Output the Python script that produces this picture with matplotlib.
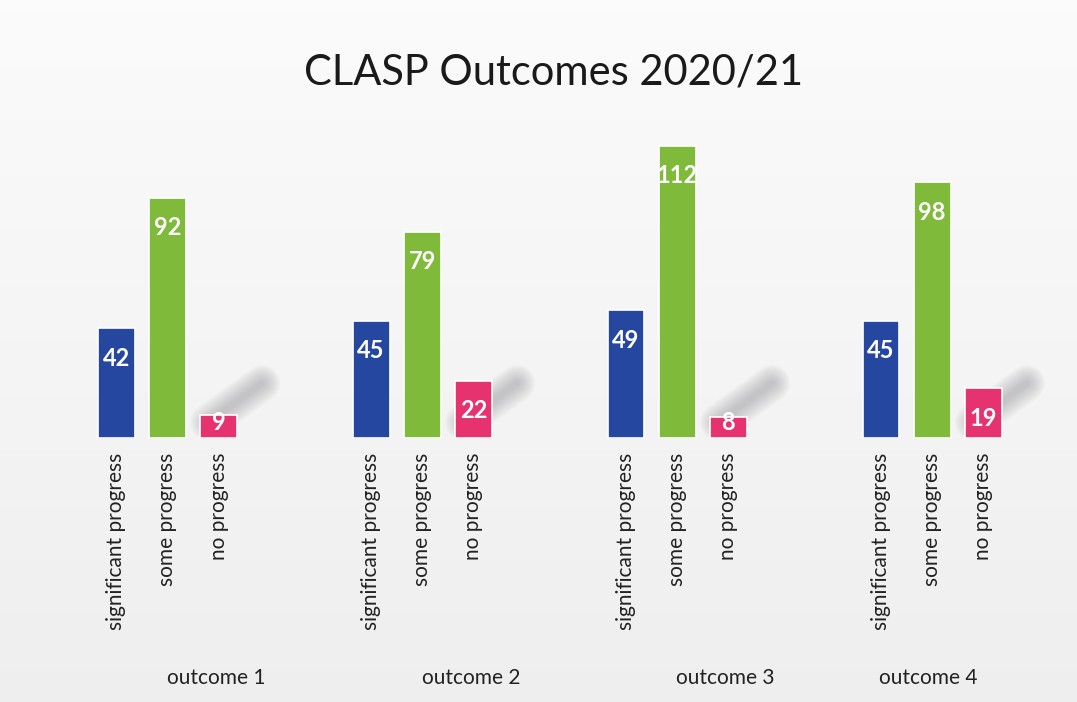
import matplotlib
matplotlib.use("Agg")
import matplotlib.pyplot as plt
import numpy as np

title = "CLASP Outcomes 2020/21"
outcomes = ["outcome 1", "outcome 2", "outcome 3", "outcome 4"]
categories = ["significant progress", "some progress", "no progress"]
significant = [42, 45, 49, 45]
some = [92, 79, 112, 98]
none_ = [9, 22, 8, 19]
colors = ["#2547a0", "#7fba3a", "#e6336f"]

plt.rcParams['font.family'] = ['Lato', 'DejaVu Sans']

fig = plt.figure(figsize=(10.77, 7.02), dpi=100)
fig.patch.set_facecolor("#f1f1f1")

# soft background gradient
bg = fig.add_axes([0, 0, 1, 1], zorder=-5)
grad = np.linspace(0, 1, 256)[:, None]
bg.imshow(np.dstack([0.985 - 0.05 * grad] * 3), aspect="auto", extent=[0, 1, 0, 1])
bg.axis("off")

ax = fig.add_axes([0, 0.376, 1, 0.624])
ax.set_xlim(-2.27, 18.77)
ax.set_ylim(0, 167.8)
ax.axis("off")
ax.patch.set_alpha(0)

series = [significant, some, none_]
group_gap = 4.98

# soft decorative shadows behind the last bar of each group
for g in range(len(outcomes)):
    xb = g * group_gap + 2
    for lw in np.linspace(26, 4, 10):
        ax.plot([xb - 0.2, xb + 0.85], [6, 21], color="#7a7a80", lw=lw, alpha=0.045,
                solid_capstyle="round", zorder=1)

for k, (vals, col) in enumerate(zip(series, colors)):
    xs = [g * group_gap + k for g in range(len(outcomes))]
    ax.bar(xs, vals, width=0.72, color=col, edgecolor="#ffffff", linewidth=1.2, zorder=3)
    for x, v in zip(xs, vals):
        yc = max(v - 11.5, 6.0)
        ax.text(x, yc, str(v), ha="center", va="center", color="white",
                fontsize=17, fontweight="bold", zorder=4)
        ax.text(x, -5.5, categories[k], rotation=90, ha="center", va="top",
                fontsize=15, color="#222222", clip_on=False)

label_shift = [1.95, 1.96, 1.94, 0.93]
for g, name in enumerate(outcomes):
    ax.text(g * group_gap + label_shift[g], -92, name, ha="center", va="center",
            fontsize=15, color="#222222", clip_on=False)

fig.text(0.514, 0.897, title, ha="center", va="center", fontsize=30, color="#1a1a1a")

fig.savefig("out.png", dpi=100, facecolor=fig.get_facecolor())
